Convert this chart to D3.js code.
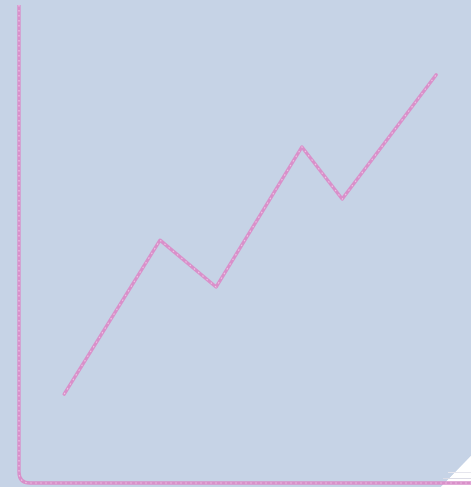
<!DOCTYPE html>
<html><head><meta charset="utf-8">
<script src="https://cdn.jsdelivr.net/npm/d3@7"></script>
<style>html,body{margin:0;padding:0;background:#fff;}svg{display:block;}</style>
</head><body>
<svg id="c" width="471" height="487"></svg>
<script>
const xValues = [10, 31.2, 43.6, 62.6, 71.5, 92.3];
const yValues = [18.6, 50.8, 41, 70.3, 59.4, 85.4];
const xDomain = [0, 100];
const yDomain = [0, 100];

const W = 471, H = 487;
const svg = d3.select("#c");
const x = d3.scaleLinear().domain(xDomain).range([19, 471]);
const y = d3.scaleLinear().domain(yDomain).range([483, 5]);

// background with folded corner
svg.append("path")
  .attr("d", `M0,0H${W}V456L441,${H}H0Z`)
  .attr("fill", "#c6d3e6");
svg.append("path")
  .attr("d", `M441,${H}L${W},456V${H}Z`)
  .attr("fill", "#ffffff");
svg.append("line").attr("x1", 448).attr("x2", W).attr("y1", 472.5).attr("y2", 472.5)
  .attr("stroke", "#e6e6ee").attr("stroke-width", 1);
svg.append("line").attr("x1", 443).attr("x2", W).attr("y1", 478.5).attr("y2", 478.5)
  .attr("stroke", "#dcdce6").attr("stroke-width", 1);

const pink = "#d990ca", light = "#efc4e4";

// axis
const x0 = x(xDomain[0]), y0 = y(yDomain[0]), y1 = y(yDomain[1]), x1 = x(xDomain[1]);
const r = 11;
const axisD = `M${x0},${y1}V${y0 - r}Q${x0},${y0} ${x0 + r},${y0}H${x1}`;
svg.append("path").attr("d", axisD).attr("fill", "none")
  .attr("stroke", pink).attr("stroke-width", 3.4);
svg.append("path").attr("d", axisD).attr("fill", "none")
  .attr("stroke", light).attr("stroke-width", 1.2).attr("stroke-dasharray", "1.5,3.5");

// line
const pts = xValues.map((v, i) => [v, yValues[i]]);
const line = d3.line().x(d => x(d[0])).y(d => y(d[1]));
svg.append("path").datum(pts).attr("d", line).attr("fill", "none")
  .attr("stroke", pink).attr("stroke-width", 3.4).attr("stroke-linejoin", "round").attr("stroke-linecap", "round");
svg.append("path").datum(pts).attr("d", line).attr("fill", "none")
  .attr("stroke", light).attr("stroke-width", 1.1).attr("stroke-dasharray", "1.5,4");
</script>
</body></html>
